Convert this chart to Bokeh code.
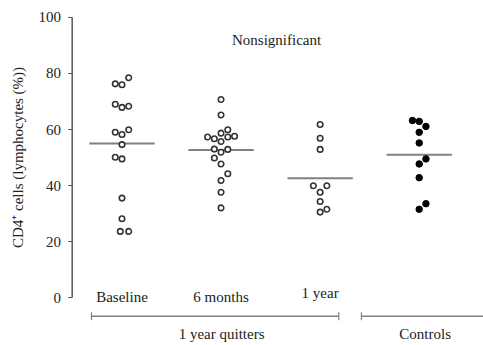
import math
from bokeh.plotting import figure
from bokeh.models import Range1d
from bokeh.core.properties import value
from bokeh.embed import file_html
from bokeh.resources import INLINE

# ---- data ----
groups = ["Baseline", "6 months", "1 year", "Controls"]
baseline_vals = [78.5, 76.3, 76.0, 69.0, 67.9, 68.3, 59.0, 58.2, 59.9, 54.6, 50.1, 49.5, 35.5, 28.1, 23.6, 23.6]
baseline_slot = [1, -1, 0, -1, 0, 1, -1, 0, 1, 0, -1, 0, 0, 0, -0.25, 1]
months6_vals = [70.7, 65.2, 59.9, 58.7, 57.3, 56.7, 57.3, 57.6, 55.7, 53.0, 52.9, 51.9, 49.8, 47.7, 44.2, 41.8, 37.6, 32.0]
months6_slot = [0, 0, 1, 0, -2, -1, 1, 2, 0, -1, 1, 0, -1, 0, 1, 0, 0, 0]
year1_vals = [61.8, 56.9, 52.9, 39.9, 39.9, 37.6, 34.3, 30.5, 31.5]
year1_slot = [0, 0, 0, -1, 1, 0, 0, 0, 1]
controls_vals = [63.2, 62.9, 61.1, 59.0, 55.2, 49.5, 47.7, 42.8, 33.5, 31.5]
controls_slot = [-1, 0, 1, 0, 0, 1, 0, 0, 1, 0]
medians = [55.0, 52.7, 42.6, 51.0]
y_ticks = [0, 20, 40, 60, 80, 100]
y_tick_labels = ["0", "20", "40", "60", "80", "100"]
bracket_labels = ["1 year quitters", "Controls"]
annotation = "Nonsignificant"
y_title = "CD4\u207a cells (lymphocytes (%))"

FONT = "Liberation Serif"
TXT = "#222222"
JIT = 0.068

p = figure(width=483, height=345, output_backend="svg", toolbar_location=None,
           x_range=Range1d(-0.2264, 4.649), y_range=Range1d(-17.14, 106.07),
           min_border_left=0, min_border_right=0, min_border_top=0, min_border_bottom=0,
           x_axis_location=None, y_axis_location=None)
p.outline_line_color = None
p.xgrid.visible = False
p.ygrid.visible = False
p.background_fill_color = "white"
p.border_fill_color = "white"

# y axis (drawn through the data scales)
AX = 0.4973
TICK = 0.0404
p.segment(x0=[AX], y0=[y_ticks[0]], x1=[AX], y1=[y_ticks[-1]], line_color="#555555", line_width=1.5)
p.segment(x0=[AX - TICK] * len(y_ticks), y0=y_ticks, x1=[AX] * len(y_ticks), y1=y_ticks,
          line_color="#555555", line_width=1.2)
p.text(x=[AX - TICK - 0.072] * len(y_ticks), y=y_ticks, text=y_tick_labels, text_font=value(FONT),
       text_font_size="15px", text_color=TXT, text_align="right", text_baseline="middle")
p.text(x=[-0.0548], y=[50], text=[y_title], angle=math.pi / 2, text_font=value(FONT),
       text_font_size="15px", text_color=TXT, text_align="center", text_baseline="middle")

# median lines
for i, m in enumerate(medians):
    c = i + 1
    p.segment(x0=[c - 0.33], y0=[m], x1=[c + 0.33], y1=[m], line_color="#808080", line_width=2)

# open-circle groups
for i, (vals, slots) in enumerate([(baseline_vals, baseline_slot), (months6_vals, months6_slot), (year1_vals, year1_slot)]):
    xs = [i + 1 + s * JIT for s in slots]
    p.scatter(x=xs, y=vals, size=5.5, marker="circle", fill_color="white",
              line_color="#333333", line_width=1.6)

# controls filled
xs = [4 + s * JIT for s in controls_slot]
p.scatter(x=xs, y=controls_vals, size=6.5, marker="circle", fill_color="black", line_color="black")

# category labels
label_y = [0.1, 0.1, 1.5]
p.text(x=[1, 2, 3], y=label_y, text=groups[:3], text_font=value(FONT), text_font_size="15px",
       text_color=TXT, text_align="center", text_baseline="middle")

# brackets
by = -6.68
cap = 1.45
p.segment(x0=[0.692, 3.417], y0=[by, by], x1=[3.188, 4.75], y1=[by, by], line_color="#808080", line_width=1.5)
p.segment(x0=[0.692, 3.188, 3.417], y0=[by - cap] * 3, x1=[0.692, 3.188, 3.417], y1=[by + cap] * 3,
          line_color="#808080", line_width=1.2)
p.text(x=[2.005, 4.06], y=[-12.9, -12.9], text=bracket_labels, text_font=value(FONT), text_font_size="15px",
       text_color=TXT, text_align="center", text_baseline="middle")

p.text(x=[2.56], y=[91.8], text=[annotation], text_font=value(FONT), text_font_size="15px",
       text_color=TXT, text_align="center", text_baseline="middle")

open("out.html", "w").write(file_html(p, INLINE))
